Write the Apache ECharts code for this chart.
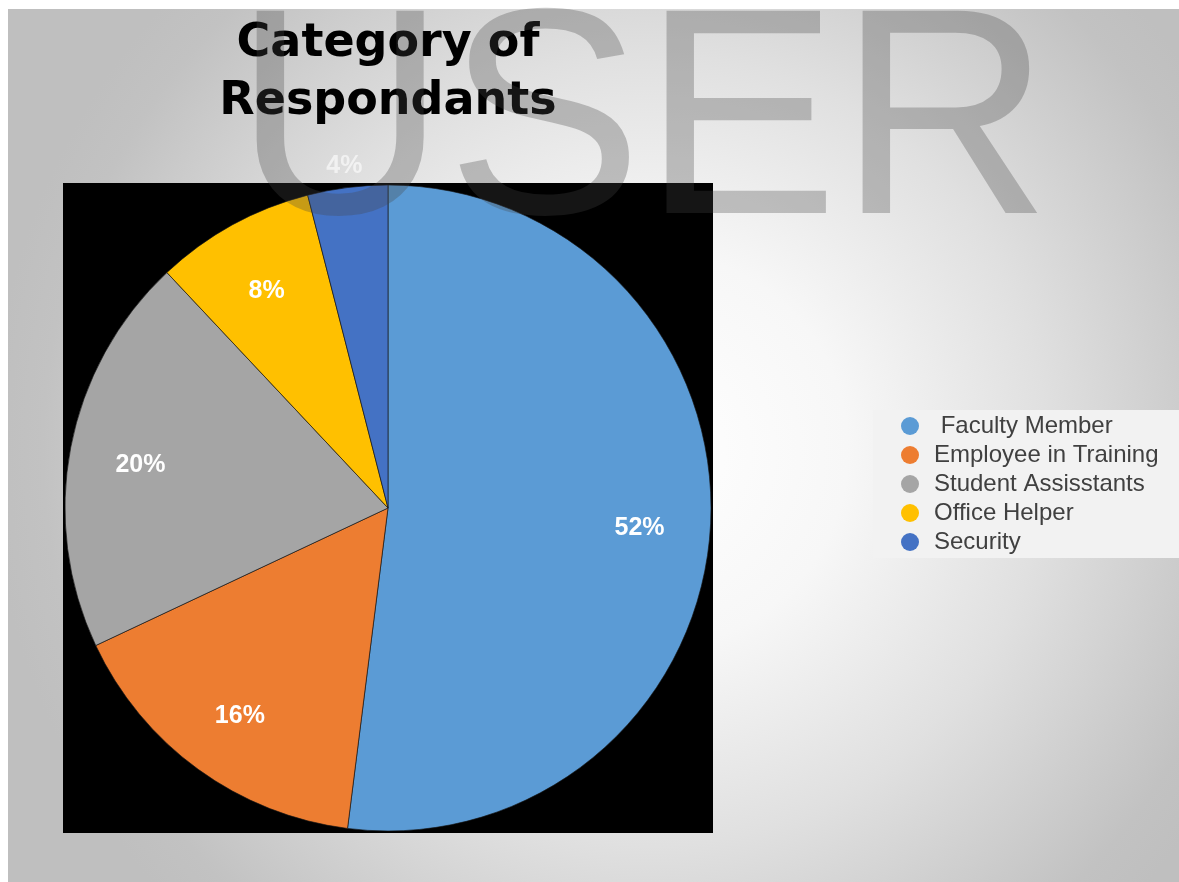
<!DOCTYPE html>
<html>
<head>
<meta charset="utf-8">
<title>Category of Respondants</title>
<script src="https://cdn.jsdelivr.net/npm/echarts@6/dist/echarts.min.js"></script>
<style>
  html, body { margin: 0; padding: 0; background: #ffffff; }
  #chart { width: 1179px; height: 882px; }
</style>
</head>
<body>
<div id="chart"></div>
<script>
// Respondent categories and their share of the survey (percent)
const categories = [' Faculty Member', 'Employee in Training', 'Student Assisstants', 'Office Helper', 'Security'];
const shares = [52, 16, 20, 8, 4];

const palette = ['#5B9BD5', '#ED7D31', '#A5A5A5', '#FFC000', '#4472C4'];

const chart = echarts.init(document.getElementById('chart'), null, { renderer: 'canvas' });

const pieCenter = [388, 508];

const sliceData = categories.map((name, i) => ({ name: name, value: shares[i] }));

// label ring: transparent copy of the pie, used only to place the percentage texts
const labelData = categories.map((name, i) => {
  const item = { name: name, value: shares[i] };
  if (i === categories.length - 1) {
    item.label = { offset: [-12, -92], color: 'rgba(255,255,255,0.6)' };
  }
  return item;
});

const option = {
  animation: false,
  color: palette,
  graphic: [
    {
      type: 'rect',
      z: -10,
      silent: true,
      shape: { x: 8, y: 9, width: 1171, height: 873 },
      style: {
        fill: new echarts.graphic.RadialGradient(650, 450, 660, [
          { offset: 0, color: '#ffffff' },
          { offset: 0.3, color: '#f7f7f7' },
          { offset: 0.6, color: '#e0e0e0' },
          { offset: 0.92, color: '#c2c2c2' },
          { offset: 1, color: '#bfbfbf' }
        ], true)
      }
    },
    {
      type: 'rect',
      z: -5,
      silent: true,
      shape: { x: 63, y: 183, width: 650, height: 650 },
      style: { fill: '#000000' }
    },
    {
      type: 'text',
      z: 50,
      silent: true,
      x: 388,
      y: 15,
      style: {
        text: 'Category of\nRespondants',
        font: 'bold 46px "DejaVu Sans"',
        lineHeight: 58,
        fill: '#000000',
        align: 'center',
        verticalAlign: 'top'
      }
    },
    {
      type: 'text',
      z: 100,
      silent: true,
      x: 234,
      y: 132,
      style: {
        text: 'USER',
        font: '294px "Liberation Sans"',
        fill: 'rgba(70,70,70,0.3)',
        align: 'left',
        verticalAlign: 'middle'
      }
    }
  ],
  legend: {
    orient: 'vertical',
    left: 873,
    top: 410,
    padding: [4, 21, 4, 28],
    backgroundColor: '#f2f2f2',
    itemWidth: 38,
    itemHeight: 18,
    itemGap: 5,
    icon: 'circle',
    itemStyle: { borderWidth: 0 },
    data: categories,
    textStyle: {
      fontFamily: '"Liberation Sans"',
      fontSize: 24,
      lineHeight: 24,
      color: '#404040'
    }
  },
  series: [
    {
      type: 'pie',
      center: pieCenter,
      radius: 323,
      startAngle: 90,
      clockwise: true,
      z: 2,
      silent: true,
      label: { show: false },
      labelLine: { show: false },
      itemStyle: { borderColor: 'rgba(20,20,20,0.8)', borderWidth: 0.8 },
      data: sliceData
    },
    {
      type: 'pie',
      center: pieCenter,
      radius: 498,
      startAngle: 90,
      clockwise: true,
      z: 3,
      silent: true,
      legendHoverLink: false,
      itemStyle: { color: 'rgba(0,0,0,0)', borderWidth: 0 },
      labelLine: { show: false },
      label: {
        show: true,
        position: 'inside',
        offset: [0, 4],
        formatter: '{c}%',
        color: '#ffffff',
        fontFamily: '"Liberation Sans"',
        fontWeight: 'bold',
        fontSize: 25
      },
      data: labelData
    }
  ]
};

chart.setOption(option);
</script>
</body>
</html>
